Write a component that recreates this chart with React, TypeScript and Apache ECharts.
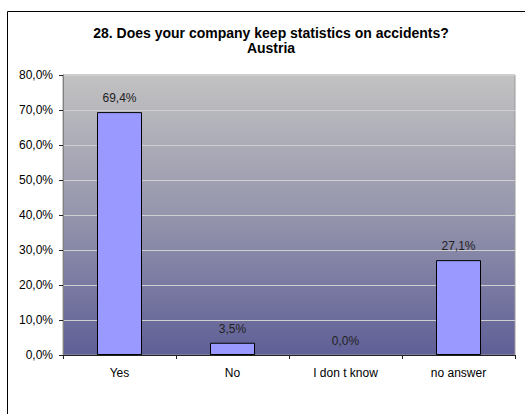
import React, { useEffect, useRef } from "react";
import * as echarts from "echarts";

const categories = ["Yes", "No", "I don t know", "no answer"];
const values = [69.4, 3.5, 0.0, 27.1];
const titleLines = ["28. Does your company keep statistics on accidents?", "Austria"];

const fmt = (v: number) => v.toFixed(1).replace(".", ",") + "%";

export default function App() {
  const ref = useRef<HTMLDivElement>(null);
  useEffect(() => {
    if (!ref.current) return;
    const chart = echarts.init(ref.current, null, { renderer: "svg" });
    chart.setOption({
      animation: false,
      backgroundColor: "#ffffff",
      textStyle: { fontFamily: "Liberation Sans, Arial, sans-serif" },
      title: {
        text: titleLines.join("\n"),
        left: 266,
        textAlign: "center",
        top: 20,
        textStyle: {
          fontSize: 14,
          fontWeight: "bold",
          color: "#000",
          lineHeight: 15,
          fontFamily: "Liberation Sans, Arial, sans-serif",
        },
      },
      graphic: [
        {
          type: "rect",
          shape: { x: 7.5, y: 11.5, width: 540, height: 420 },
          style: { fill: "none", stroke: "#000", lineWidth: 1 },
          silent: true,
          z: 100,
        },
      ],
      grid: {
        left: 63,
        top: 75,
        right: 10,
        bottom: 59,
        show: true,
        borderColor: "#9a9a9a",
        borderWidth: 1,
        backgroundColor: {
          type: "linear",
          x: 0,
          y: 0,
          x2: 0,
          y2: 1,
          colorStops: [
            { offset: 0, color: "#c2c2c2" },
            { offset: 0.5, color: "#9595ad" },
            { offset: 1, color: "#5f5f97" },
          ],
        },
      },
      xAxis: {
        type: "category",
        data: categories,
        axisLine: { show: true, lineStyle: { color: "#222", width: 1 } },
        axisTick: { show: true, length: 4, lineStyle: { color: "#222" } },
        axisLabel: { color: "#000", fontSize: 12, margin: 12 },
      },
      yAxis: {
        type: "value",
        min: 0,
        max: 80,
        interval: 10,
        axisLine: { show: true, lineStyle: { color: "#808080" } },
        axisTick: { show: true, length: 4, lineStyle: { color: "#222" } },
        axisLabel: { color: "#000", fontSize: 12, margin: 10, formatter: (v: number) => fmt(v) },
        splitLine: { show: true, lineStyle: { color: "#cfcfcf", width: 1 } },
      },
      series: [
        {
          type: "bar",
          data: values.map((v) =>
            v === 0 ? { value: v, itemStyle: { borderWidth: 0 } } : v
          ),
          barWidth: 45,
          itemStyle: { color: "#9999ff", borderColor: "#000", borderWidth: 1 },
          label: {
            show: true,
            position: "top",
            distance: 8,
            fontSize: 12,
            color: "#222",
            formatter: (p: any) => fmt(p.value),
          },
        },
      ],
    });
    return () => chart.dispose();
  }, []);
  return (
    <div
      ref={ref}
      style={{ position: "fixed", left: 0, top: 0, width: 525, height: 414 }}
    />
  );
}
